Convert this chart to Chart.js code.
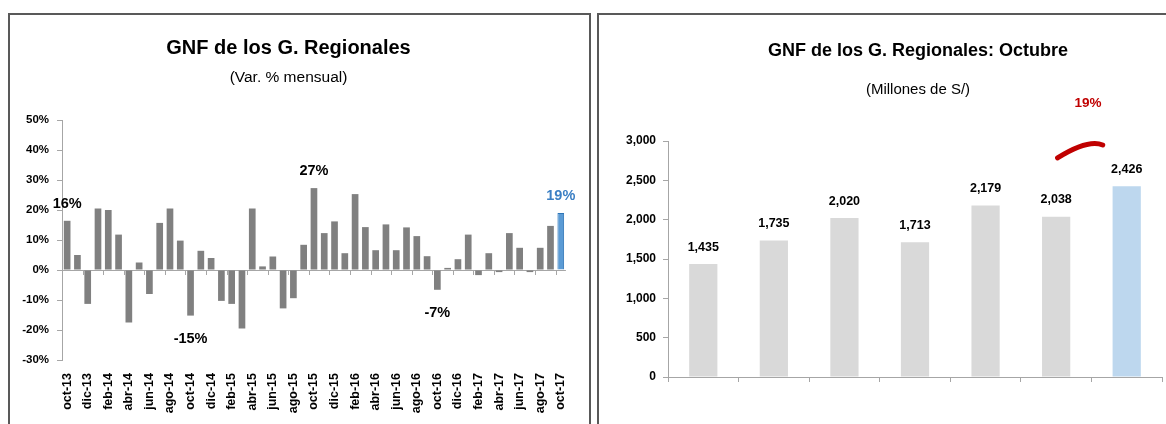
<!DOCTYPE html>
<html>
<head>
<meta charset="utf-8">
<script src="https://cdn.jsdelivr.net/npm/chart.js@4.4.1/dist/chart.umd.min.js"></script>
<style>
  html, body { margin: 0; padding: 0; background: #fff; overflow: hidden; }
  body { width: 1166px; height: 424px; position: relative; }
  .panel { position: absolute; top: 13px; height: 440px; border: 2px solid #595959; border-bottom: none; box-sizing: border-box; }
  #panelIzq { left: 8px; width: 583px; }
  #panelDer { left: 597px; width: 660px; }
  .panel canvas { position: absolute; left: 0; top: 0; }
</style>
</head>
<body>
<div class="panel" id="panelIzq"><canvas id="chartVar" width="579" height="430"></canvas></div>
<div class="panel" id="panelDer"><canvas id="chartOct" width="638" height="409"></canvas></div>
<script>
// Datos del gráfico izquierdo: variación % mensual
const meses = [
  "oct-13", "nov-13", "dic-13", "ene-14", "feb-14", "mar-14", "abr-14", "may-14", "jun-14", "jul-14",
  "ago-14", "sep-14", "oct-14", "nov-14", "dic-14", "ene-15", "feb-15", "mar-15", "abr-15", "may-15",
  "jun-15", "jul-15", "ago-15", "sep-15", "oct-15", "nov-15", "dic-15", "ene-16", "feb-16", "mar-16",
  "abr-16", "may-16", "jun-16", "jul-16", "ago-16", "sep-16", "oct-16", "nov-16", "dic-16", "ene-17",
  "feb-17", "mar-17", "abr-17", "may-17", "jun-17", "jul-17", "ago-17", "sep-17", "oct-17"
];
const varMensual = [
  16.4, 5.0, -11.3, 20.5, 20.0, 11.8, -17.5, 2.5, -8.0, 15.7,
  20.5, 9.8, -15.2, 6.4, 4.0, -10.3, -11.3, -19.5, 20.5, 1.2,
  4.5, -12.8, -9.4, 8.4, 27.3, 12.3, 16.2, 5.6, 25.3, 14.3,
  6.6, 15.2, 6.6, 14.2, 11.3, 4.6, -6.6, 0.7, 3.6, 11.8,
  -1.7, 5.6, -0.7, 12.3, 7.4, -0.7, 7.4, 14.7, 19.0
];
const mesesConEtiqueta = [0, 12, 24, 36, 48]; // los octubres
const ticksVar = [-30, -20, -10, 0, 10, 20, 30, 40, 50];

// Datos del gráfico derecho: GNF de octubre (millones de S/)
const anios = ["oct-11", "oct-12", "oct-13", "oct-14", "oct-15", "oct-16", "oct-17"];
const gnfOctubre = [1435, 1735, 2020, 1713, 2179, 2038, 2426];
const varAnual = "19%";

const FUENTE = "'Liberation Sans', Arial, sans-serif";
const GRIS_EJE = "#a6a6a6";

Chart.defaults.font.family = FUENTE;
Chart.defaults.color = "#000";

/**
 * Línea de cero con sus marcas cada dos meses
 */
const ejeCero = {
  id: "ejeCero",
  afterDatasetsDraw(chart) {
    const { ctx, scales: { x, y } } = chart;
    const y0 = y.getPixelForValue(0);
    ctx.save();
    ctx.strokeStyle = GRIS_EJE;
    ctx.lineWidth = 1;
    ctx.beginPath();
    for (let k = 2; k < meses.length; k += 2) {
      const px = Math.round(x.getPixelForValue(k - 0.5)) + 0.5;
      ctx.moveTo(px, y0);
      ctx.lineTo(px, y0 + 5);
    }
    ctx.stroke();
    ctx.restore();
  }
};

/**
 * Etiquetas de los octubres en el gráfico de variación
 */
const etiquetasVar = {
  id: "etiquetasVar",
  afterDatasetsDraw(chart) {
    const { ctx } = chart;
    const meta = chart.getDatasetMeta(0);
    ctx.save();
    ctx.font = "bold 14.5px " + FUENTE;
    ctx.textAlign = "center";
    ctx.textBaseline = "middle";
    mesesConEtiqueta.forEach((i) => {
      const v = varMensual[i];
      const bar = meta.data[i];
      ctx.fillStyle = i === varMensual.length - 1 ? "#3b7fc4" : "#000";
      const py = v >= 0 ? bar.y - 17 : bar.y + 23;
      ctx.fillText(Math.round(v) + "%", bar.x, py);
    });
    ctx.restore();
  }
};

/**
 * Etiquetas de valor y flecha de crecimiento en el gráfico de octubre
 */
const etiquetasOct = {
  id: "etiquetasOct",
  afterDatasetsDraw(chart) {
    const { ctx, scales: { x, y } } = chart;
    const meta = chart.getDatasetMeta(0);
    ctx.save();
    ctx.font = "bold 12.5px " + FUENTE;
    ctx.textAlign = "center";
    ctx.textBaseline = "middle";
    ctx.fillStyle = "#000";
    meta.data.forEach((bar, i) => {
      ctx.fillText(gnfOctubre[i].toLocaleString("en-US"), bar.x, bar.y - 17);
    });

    // arco rojo entre las dos últimas barras
    ctx.strokeStyle = "#c00000";
    ctx.lineWidth = 5;
    ctx.lineCap = "round";
    ctx.beginPath();
    ctx.moveTo(x.getPixelForValue(5.02), y.getPixelForValue(2784));
    ctx.quadraticCurveTo(
      x.getPixelForValue(5.45), y.getPixelForValue(3025),
      x.getPixelForValue(5.66), y.getPixelForValue(2949)
    );
    ctx.stroke();

    ctx.font = "bold 13.5px " + FUENTE;
    ctx.fillStyle = "#c00000";
    ctx.fillText(varAnual, x.getPixelForValue(5.45), y.getPixelForValue(3483));
    ctx.restore();
  }
};

function renderVariacion() {
  const ctx = document.getElementById("chartVar").getContext("2d");
  const ultimo = varMensual.length - 1;
  new Chart(ctx, {
    type: "bar",
    data: {
      labels: meses,
      datasets: [{
        data: varMensual,
        backgroundColor: varMensual.map((v, i) => (i === ultimo ? "#5b9bd5" : "#808080")),
        borderColor: varMensual.map((v, i) => (i === ultimo ? "#2e75b6" : "#808080")),
        borderWidth: varMensual.map((v, i) => (i === ultimo ? 1 : 0)),
        barPercentage: 0.65,
        categoryPercentage: 1.0,
      }],
    },
    options: {
      responsive: false,
      animation: false,
      layout: { padding: { right: 22 } },
      plugins: {
        legend: { display: false },
        tooltip: { enabled: false },
        title: {
          display: true,
          text: "GNF de los G. Regionales",
          font: { size: 20, weight: "bold" },
          color: "#000",
          padding: { top: 21, bottom: 0 },
        },
        subtitle: {
          display: true,
          text: "(Var. % mensual)",
          font: { size: 15.5 },
          color: "#000",
          padding: { top: 8.7, bottom: 32.7 },
        },
      },
      scales: {
        x: {
          grid: { display: false, drawTicks: false },
          border: { display: false },
          ticks: {
            autoSkip: false,
            maxRotation: 90,
            minRotation: 90,
            padding: 13,
            font: { size: 12.5, weight: "bold" },
            callback: (val, i) => (i % 2 === 0 ? meses[i] : ""),
          },
          afterFit: (scale) => { scale.height = 85; },
        },
        y: {
          min: ticksVar[0],
          max: ticksVar[ticksVar.length - 1],
          afterBuildTicks: (scale) => { scale.ticks = ticksVar.map((v) => ({ value: v })); },
          grid: {
            color: (c) => (c.tick && c.tick.value === 0 ? GRIS_EJE : "transparent"),
            tickColor: GRIS_EJE,
            tickLength: 5,
          },
          border: { color: GRIS_EJE },
          ticks: {
            padding: 8,
            font: { size: 11.5, weight: "bold" },
            callback: (v) => v + "%",
          },
          afterFit: (scale) => { scale.width = 52; },
        },
      },
    },
    plugins: [ejeCero, etiquetasVar],
  });
}

function renderOctubre() {
  const ctx = document.getElementById("chartOct").getContext("2d");
  const ultimo = gnfOctubre.length - 1;
  new Chart(ctx, {
    type: "bar",
    data: {
      labels: anios,
      datasets: [{
        data: gnfOctubre,
        backgroundColor: gnfOctubre.map((v, i) => (i === ultimo ? "#bdd7ee" : "#d9d9d9")),
        barPercentage: 0.4,
        categoryPercentage: 1.0,
      }],
    },
    options: {
      responsive: false,
      animation: false,
      plugins: {
        legend: { display: false },
        tooltip: { enabled: false },
        title: {
          display: true,
          text: "GNF de los G. Regionales: Octubre",
          font: { size: 18, weight: "bold" },
          color: "#000",
          padding: { top: 25.5, bottom: 0 },
        },
        subtitle: {
          display: true,
          text: "(Millones de S/)",
          font: { size: 15 },
          color: "#000",
          padding: { top: 18.4, bottom: 42.5 },
        },
      },
      scales: {
        x: {
          grid: { drawOnChartArea: false, color: GRIS_EJE, tickLength: 5 },
          border: { color: GRIS_EJE },
          ticks: { display: false },
          afterFit: (scale) => { scale.height = 47; },
        },
        y: {
          min: 0,
          max: 3000,
          grid: { drawOnChartArea: false, color: GRIS_EJE, tickLength: 5 },
          border: { color: GRIS_EJE },
          ticks: {
            stepSize: 500,
            padding: 7,
            font: { size: 12, weight: "bold" },
            callback: (v) => v.toLocaleString("en-US"),
          },
          afterFit: (scale) => { scale.width = 69; },
        },
        // espacio a la derecha: el gráfico original sigue más allá del recorte
        margen: {
          position: "right",
          grid: { display: false },
          border: { display: false },
          ticks: { display: false },
          afterFit: (scale) => { scale.width = 75; },
        },
      },
    },
    plugins: [etiquetasOct],
  });
}

document.addEventListener("DOMContentLoaded", () => {
  renderVariacion();
  renderOctubre();
});
</script>
</body>
</html>
